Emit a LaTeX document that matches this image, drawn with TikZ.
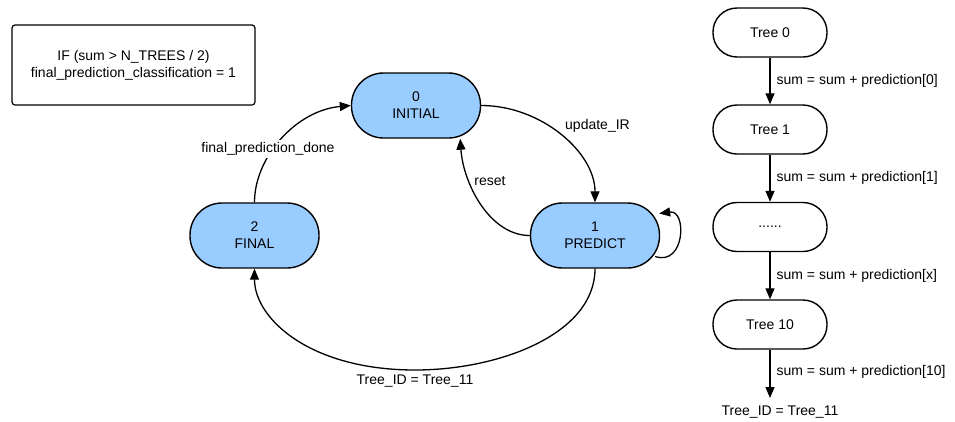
\documentclass[tikz,border=0pt]{standalone}
\usepackage{fontspec}
\setmainfont{Liberation Sans}
\usetikzlibrary{arrows.meta}
\definecolor{stateblue}{HTML}{99CCFF}
\begin{document}
\begin{tikzpicture}[x=1pt,y=-1pt,
  font=\fontsize{14}{17}\selectfont,
  every node/.style={inner sep=0pt},
  state/.style={draw=black,line width=1.4pt,fill=stateblue,rounded corners=32pt,
    minimum width=129pt,minimum height=65pt,align=center},
  treebox/.style={draw=black,line width=1.4pt,fill=white,rounded corners=24pt,
    minimum width=114pt,minimum height=49pt,align=center},
  infobox/.style={draw=black,line width=1.2pt,rounded corners=3pt,
    minimum width=243pt,minimum height=80pt,align=center},
  conn/.style={line width=1.3pt,-{Triangle[width=9pt,length=11pt]}},
  lbl/.style={fill=white,inner sep=2pt}]
\useasboundingbox (0,0) rectangle (955,421);

% note box
\node[infobox] (note) at (133.5,65) {IF (sum > N\_TREES / 2)\\final\_prediction\_classification = 1};

% state machine
\node[state] (init) at (416,105.5) {0\\INITIAL};
\node[state] (final) at (254.5,235.5) {2\\FINAL};
\node[state] (pred) at (595,235.5) {1\\PREDICT};

\draw[conn] (init.east) .. controls +(60,0) and +(0,-50) .. (pred.north);
\node[anchor=west] (lupd) at (565,126) {update\_IR};

\draw[conn] (pred.west) .. controls +(-40,0) and +(3,45) .. ([xshift=-21pt]init.south east);
\node (lreset) at (490,181) {reset};

\draw[conn] (final.north) .. controls +(0,-45) and +(-55,5) .. (init.west);
\node[lbl] (ldone) at (268,149) {final\_prediction\_done};

\draw[conn] (pred.south) .. controls +(0,65) and +(85,0) .. (415,370)
  .. controls +(-105,0) and +(0,50) .. (final.south);
\node (ltree) at (415,381) {Tree\_ID = Tree\_11};

% self loop on PREDICT, leaving low on the right and re-entering high
\draw[conn] ([shift={(-5pt,-21pt)}]pred.east) .. controls +(30,10) and +(28,-4) .. ([shift={(-1pt,22pt)}]pred.east);

% tree chain
\node[treebox] (t0) at (770,32.5) {Tree 0};
\node[treebox] (t1) at (770,129.5) {Tree 1};
\node[treebox] (tx) at (770,227) {......};
\node[treebox] (t10) at (770,324.5) {Tree 10};
\node (tend) at (780,412) {Tree\_ID = Tree\_11};
\coordinate (tstop) at (770,398);

\draw[conn] (t0) -- (t1) node[midway,anchor=west,xshift=6pt] {sum = sum + prediction[0]};
\draw[conn] (t1) -- (tx) node[midway,anchor=west,xshift=6pt] {sum = sum + prediction[1]};
\draw[conn] (tx) -- (t10) node[midway,anchor=west,xshift=6pt] {sum = sum + prediction[x]};
\draw[conn] (t10) -- (tstop) node[pos=0.45,anchor=west,xshift=6pt] {sum = sum + prediction[10]};
\end{tikzpicture}
\end{document}
